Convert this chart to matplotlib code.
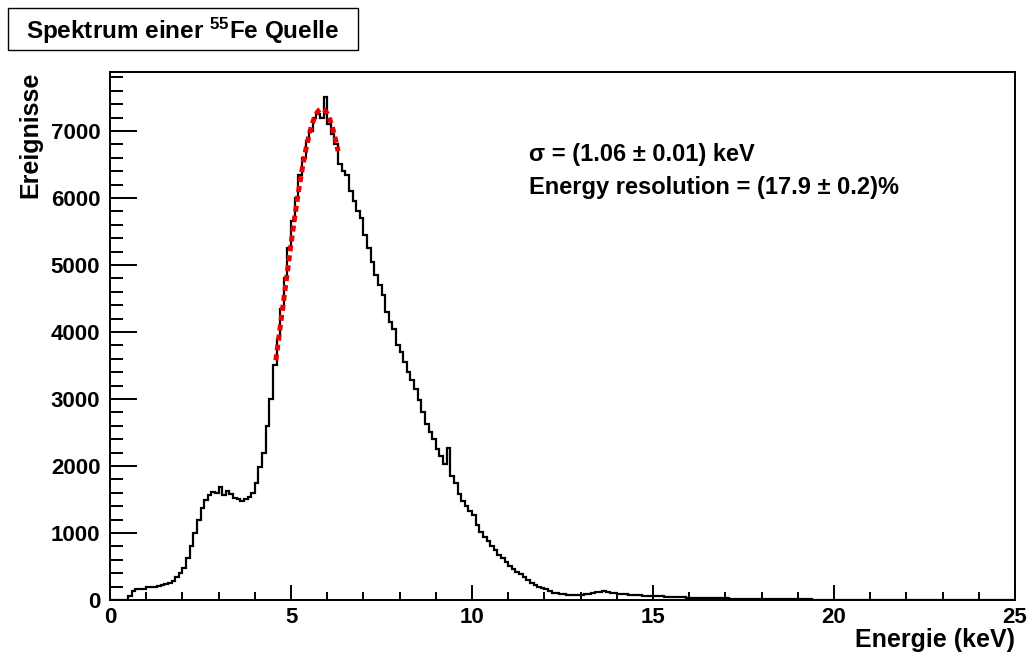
import numpy as np
import matplotlib
matplotlib.use("Agg")
import matplotlib.pyplot as plt
from matplotlib.patches import Rectangle
from matplotlib.ticker import MultipleLocator

plt.rcParams['font.family'] = ['Liberation Sans', 'DejaVu Sans']
plt.rcParams['font.weight'] = 'bold'
plt.rcParams['mathtext.fontset'] = 'custom'
plt.rcParams['mathtext.rm'] = 'Liberation Sans:bold'
plt.rcParams['mathtext.default'] = 'rm'

# Histogramm, 0.1 keV Bins von 0 bis 25 keV
bin_width = 0.1
counts = [
    0, 0, 0, 0, 0, 60, 130, 160, 170, 160,
    190, 200, 200, 210, 220, 240, 260, 290, 340, 410,
    480, 620, 800, 1000, 1200, 1380, 1490, 1560, 1610, 1600,
    1680, 1560, 1620, 1580, 1520, 1500, 1470, 1510, 1540, 1600,
    1740, 1990, 2200, 2600, 3000, 3500, 3900, 4350, 4800, 5250,
    5650, 6000, 6350, 6600, 6850, 7000, 7200, 7250, 7200, 7500,
    7100, 6950, 6800, 6500, 6400, 6350, 6100, 5950, 5800, 5700,
    5450, 5250, 5050, 4850, 4700, 4550, 4300, 4150, 4050, 3800,
    3700, 3550, 3400, 3280, 3150, 2980, 2800, 2620, 2500, 2400,
    2250, 2150, 2030, 2270, 1850, 1750, 1580, 1480, 1400, 1330,
    1270, 1120, 1020, 940, 880, 810, 750, 670, 620, 560,
    500, 460, 420, 390, 340, 300, 260, 230, 200, 180,
    160, 140, 110, 100, 90, 85, 80, 75, 75, 70,
    75, 85, 95, 105, 115, 125, 130, 120, 110, 100,
    95, 90, 85, 80, 75, 70, 68, 65, 62, 60,
    58, 55, 52, 50, 48, 45, 43, 40, 38, 36,
    34, 32, 30, 29, 28, 27, 26, 25, 24, 23,
    22, 21, 20, 19, 18, 18, 17, 16, 15, 15,
    14, 14, 13, 12, 12, 11, 11, 10, 10, 9,
    9, 9, 8, 8, 7, 7, 7, 6, 6, 6,
    6, 5, 5, 5, 5, 4, 4, 4, 4, 4,
    4, 3, 3, 3, 3, 3, 3, 3, 3, 3,
    3, 2, 2, 2, 2, 2, 2, 2, 2, 2,
    2, 2, 2, 2, 2, 2, 1, 1, 1, 1,
    1, 1, 1, 1, 1, 1, 1, 1, 1, 1,
]

# Gauss-Fit
fit_amp = 7330
fit_mean = 5.85
fit_sigma = 1.06
fit_range = (4.58, 6.3)

counts = np.array(counts)
edges = np.arange(len(counts) + 1) * bin_width

fig = plt.figure(figsize=(10.35, 6.57), dpi=100)
ax = fig.add_axes([0.1063, 0.0868, 0.8744, 0.8036])

ax.stairs(counts, edges, color='black', linewidth=1.6)

xf = np.linspace(fit_range[0], fit_range[1], 200)
yf = fit_amp * np.exp(-0.5 * ((xf - fit_mean) / fit_sigma) ** 2)
ax.plot(xf, yf, color='#ee0000', linewidth=3.6, linestyle=(0, (1.2, 0.8)))

ax.set_xlim(0, 25)
ax.set_ylim(0, 7880)

ax.xaxis.set_major_locator(MultipleLocator(5))
ax.xaxis.set_minor_locator(MultipleLocator(1))
ax.yaxis.set_major_locator(MultipleLocator(1000))
ax.yaxis.set_minor_locator(MultipleLocator(200))
ax.tick_params(axis='both', which='both', direction='in', top=False, right=False,
               width=1.4, labelsize=16)
ax.tick_params(axis='x', which='major', length=11, pad=5)
ax.tick_params(axis='x', which='minor', length=5.5)
ax.tick_params(axis='y', which='major', length=19.5, pad=7)
ax.tick_params(axis='y', which='minor', length=9.5)
for s in ax.spines.values():
    s.set_linewidth(1.4)

ax.set_xlabel('Energie (keV)', fontsize=18, fontweight='bold', loc='right', labelpad=0)
ax.set_ylabel('Ereignisse', fontsize=18, fontweight='bold', loc='top', labelpad=6)

ax.text(0.4627, 0.843, u'\u03c3 = (1.06 \u00b1 0.01) keV', transform=ax.transAxes,
        fontsize=17, fontweight='bold', va='center', ha='left')
ax.text(0.4627, 0.782, u'Energy resolution = (17.9 \u00b1 0.2)%', transform=ax.transAxes,
        fontsize=17, fontweight='bold', va='center', ha='left')

# Titelbox
fig.patches.append(Rectangle((8 / 1035, 1 - 50 / 657), 350 / 1035, 42 / 657,
                             transform=fig.transFigure, facecolor='white',
                             edgecolor='black', linewidth=1.0))
fig.text(26 / 1035, 1 - 31 / 657, r'Spektrum einer $^{55}$Fe Quelle',
         fontsize=17.5, fontweight='bold', va='center', ha='left')

fig.savefig('out.png', dpi=100)
